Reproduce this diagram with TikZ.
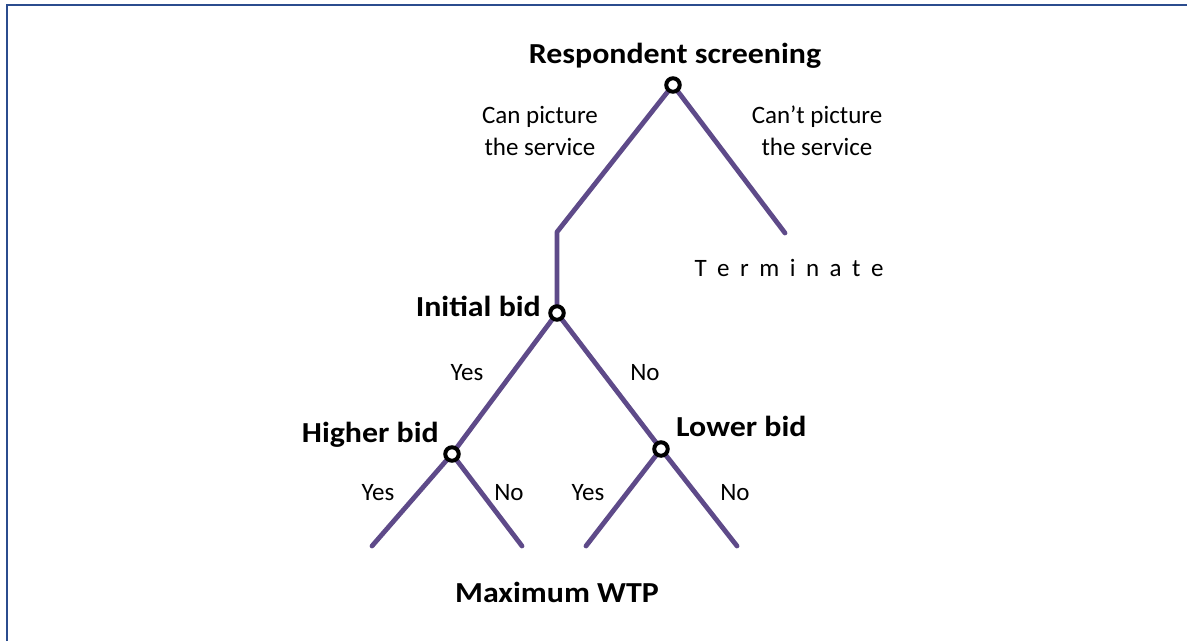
\documentclass[tikz,border=0pt]{standalone}
\usepackage{fontspec}
\setmainfont{Carlito}
\definecolor{frameblue}{HTML}{2B4C8E}
\definecolor{branch}{HTML}{5E4A89}
\tikzset{
  branchline/.style={draw=branch, line width=4.8pt, line cap=round, line join=round},
  decision/.style={circle, draw=black, fill=white, line width=4pt, minimum size=13.5pt, inner sep=0pt},
  title/.style={anchor=base, font=\bfseries\fontsize{29}{33}\selectfont, inner sep=0pt, xscale=1.1},
  lbl/.style={anchor=base, font=\fontsize{25}{31}\selectfont, inner sep=0pt, align=center},
  endpt/.style={coordinate}
}
\begin{document}
\begin{tikzpicture}[x=1pt, y=-1pt]
\useasboundingbox (0,0) rectangle (1187,641);
% frame (top and left edges)
\draw[frameblue, line width=2.4pt] (7,641) -- (7,5) -- (1187,5);

% decision points and branch ends
\coordinate (rootbend) at (557,232);
\coordinate (term) at (785,233);
\coordinate (hy) at (372,546);
\coordinate (hn) at (522,546);
\coordinate (ly) at (586,546);
\coordinate (ln) at (737,546);
\coordinate (rootc) at (673,85);
\coordinate (initc) at (557,313);
\coordinate (highc) at (452,454);
\coordinate (lowc) at (661,449);

% branches
\path[branchline] (rootc) -- (rootbend) -- (initc);
\path[branchline] (rootc) -- (term);
\path[branchline] (initc) -- (highc);
\path[branchline] (initc) -- (lowc);
\path[branchline] (highc) -- (hy);
\path[branchline] (highc) -- (hn);
\path[branchline] (lowc) -- (ly);
\path[branchline] (lowc) -- (ln);

% decision circles
\node[decision] (root) at (rootc) {};
\node[decision] (init) at (initc) {};
\node[decision] (high) at (highc) {};
\node[decision] (low) at (lowc) {};

% titles
\node[title] (t1) at (675,63) {Respondent screening};
\node[title, anchor=base east] (t2) at (541,316) {Initial bid};
\node[title, anchor=base east] (t3) at (439,442) {Higher bid};
\node[title, anchor=base west] (t4) at (676,436) {Lower bid};
\node[title] (t5) at (557,602) {Maximum WTP};

% branch labels
\node[lbl] (c1) at (540,123) {Can picture};
\node[lbl] (c2) at (540,155) {the service};
\node[lbl] (d1) at (817,123) {Can’t picture};
\node[lbl] (d2) at (817,155) {the service};
\node[lbl] (term lbl) at (789,276) {\spaceskip=10.5pt T e r m i n a t e};
\node[lbl] (y1) at (467,380) {Yes};
\node[lbl] (n1) at (645,380) {No};
\node[lbl] (y2) at (378,500) {Yes};
\node[lbl] (n2) at (509,500) {No};
\node[lbl] (y3) at (588,500) {Yes};
\node[lbl] (n3) at (735,500) {No};
\end{tikzpicture}
\end{document}
